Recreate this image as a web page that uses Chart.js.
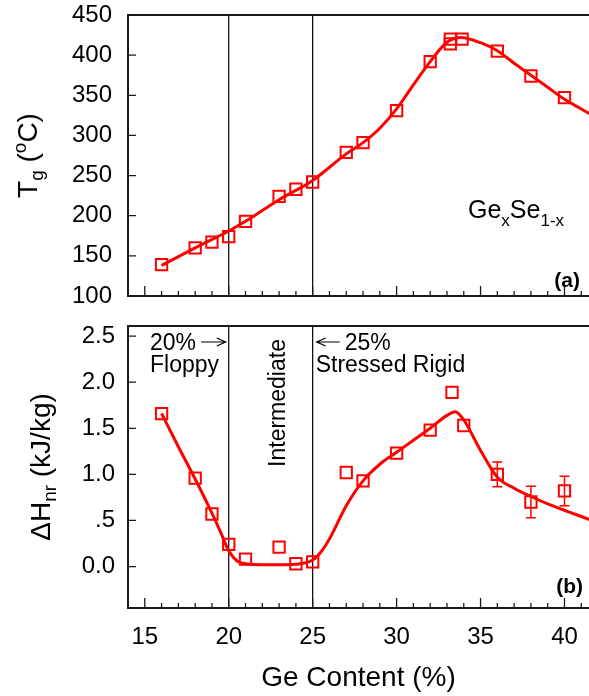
<!DOCTYPE html>
<html>
<head>
<meta charset="utf-8">
<script src="https://cdn.jsdelivr.net/npm/chart.js@4.4.0/dist/chart.umd.min.js"></script>
<style>
  body { margin: 0; background: #fff; overflow: hidden; }
  #wrap { position: relative; width: 589px; height: 696px; }
  #tgChart { position: absolute; left: 0; top: 0; }
  #dhChart { position: absolute; left: 0; top: 310px; }
</style>
</head>
<body>
<div id="wrap">
  <canvas id="tgChart" width="589" height="310"></canvas>
  <canvas id="dhChart" width="589" height="386"></canvas>
</div>
<script>
// Glass transition temperature, Ge_x Se_1-x
const tgGe = [16, 18, 19, 20, 21, 23, 24, 25, 27, 28, 30, 32, 33.2, 33.2, 33.9, 36, 38, 40];
const tgVals = [139, 160, 167, 174, 193, 224, 233, 242, 279, 291, 331, 392, 414, 420, 420, 405, 374, 347];
const tgFitGe = [16, 18, 20, 21, 23, 25, 27, 28, 29, 30, 31, 32, 33, 33.8, 35, 36, 37, 38, 39, 40, 41, 41.5];
const tgFitVals = [138, 160, 181, 193, 220, 244, 277, 291, 309, 333, 363, 392, 416, 422, 415.5, 405.5, 390, 375, 360, 345, 333, 327];
const tgTicks = [100, 150, 200, 250, 300, 350, 400, 450];

// Non-reversing enthalpy
const dhGe = [16, 18, 19, 20, 21, 23, 24, 25, 27, 28, 30, 32, 33.3, 34, 36, 38, 40];
const dhVals = [1.66, 0.96, 0.57, 0.24, 0.08, 0.21, 0.03, 0.05, 1.02, 0.93, 1.23, 1.48, 1.89, 1.53, 1.00, 0.70, 0.82];
const dhErr = [0, 0, 0, 0, 0, 0, 0, 0, 0, 0, 0, 0, 0, 0, 0.135, 0.17, 0.16];
const dhFitGe = [16, 17, 18, 19, 19.5, 20, 20.5, 21, 22, 23, 24, 25, 25.5, 26, 27, 28, 29, 30, 31, 32, 33, 33.5, 34, 35, 36, 37, 38, 39, 40, 41.5];
const dhFitVals = [1.66, 1.30, 0.95, 0.58, 0.38, 0.17, 0.06, 0.03, 0.02, 0.02, 0.025, 0.07, 0.16, 0.30, 0.66, 0.93, 1.11, 1.24, 1.37, 1.50, 1.64, 1.68, 1.59, 1.26, 0.97, 0.85, 0.76, 0.68, 0.61, 0.51];
const dhTicks = [0, 0.5, 1, 1.5, 2, 2.5];
const dhTickLabels = ['0.0', '.5', '1.0', '1.5', '2.0', '2.5'];

const geTicks = [15, 20, 25, 30, 35, 40];
const phaseBounds = [20, 25];

const RED = '#ff0000';
const FONT = "'Liberation Sans', Arial, sans-serif";

const pts = (xs, ys) => xs.map((x, i) => ({ x, y: ys[i] }));

// draws a run of text pieces with sub/superscripts; parts: [text, size, dy, weight]
function richText(ctx, parts, x, y, align) {
  let total = 0;
  parts.forEach(p => {
    ctx.font = (p[3] || 'normal') + ' ' + p[1] + 'px ' + FONT;
    total += ctx.measureText(p[0]).width;
  });
  let cx = align === 'center' ? x - total / 2 : align === 'right' ? x - total : x;
  ctx.textAlign = 'left';
  ctx.textBaseline = 'alphabetic';
  parts.forEach(p => {
    ctx.font = (p[3] || 'normal') + ' ' + p[1] + 'px ' + FONT;
    ctx.fillText(p[0], cx, y + p[2]);
    cx += ctx.measureText(p[0]).width;
  });
  return cx;
}

// thin open arrow, dir = 1 points right, -1 points left
function arrow(ctx, x1, x2, y, dir) {
  const tip = dir > 0 ? x2 : x1;
  ctx.beginPath();
  ctx.moveTo(x1, y);
  ctx.lineTo(x2, y);
  ctx.moveTo(tip - dir * 9, y - 4);
  ctx.lineTo(tip, y);
  ctx.lineTo(tip - dir * 9, y + 4);
  ctx.stroke();
}

// no extra room for the first/last tick labels; the frame is fixed by layout.padding
function noScalePadding(s) {
  s.paddingTop = 0;
  s.paddingBottom = 0;
  s.paddingLeft = 0;
  s.paddingRight = 0;
}

// frame, inward ticks and the 20 % / 25 % boundaries
const framePlugin = {
  id: 'frame',
  beforeDatasetsDraw(chart) {
    const { ctx, chartArea: a, scales: { x, y } } = chart;
    ctx.save();
    ctx.strokeStyle = '#000';
    ctx.lineWidth = 1.2;
    phaseBounds.forEach(v => {
      const px = x.getPixelForValue(v);
      ctx.beginPath();
      ctx.moveTo(px, a.top);
      ctx.lineTo(px, a.bottom);
      ctx.stroke();
    });

    ctx.strokeStyle = '#1a1a1a';
    ctx.lineWidth = 2;
    ctx.beginPath();
    ctx.moveTo(a.right + 2, a.top);
    ctx.lineTo(a.left, a.top);
    ctx.lineTo(a.left, a.bottom);
    ctx.lineTo(a.right + 2, a.bottom);
    ctx.stroke();

    ctx.lineWidth = 1.3;
    ctx.beginPath();
    for (let v = Math.ceil(x.min); v <= x.max; v++) {
      const px = x.getPixelForValue(v);
      const len = v % 5 === 0 ? 10 : 5;
      ctx.moveTo(px, a.bottom);
      ctx.lineTo(px, a.bottom - len);
    }
    y.ticks.forEach(t => {
      const py = y.getPixelForValue(t.value);
      ctx.moveTo(a.left, py);
      ctx.lineTo(a.left + 8, py);
    });
    ctx.stroke();
    ctx.restore();
  }
};

// error bars for the enthalpy points
const errorBars = {
  id: 'errorBars',
  afterDatasetsDraw(chart) {
    const { ctx, scales: { x, y } } = chart;
    ctx.save();
    ctx.strokeStyle = RED;
    ctx.lineWidth = 1.5;
    dhErr.forEach((e, i) => {
      if (!e) return;
      const px = x.getPixelForValue(dhGe[i]);
      const yTop = y.getPixelForValue(dhVals[i] + e);
      const yBot = y.getPixelForValue(dhVals[i] - e);
      ctx.beginPath();
      ctx.moveTo(px, yTop); ctx.lineTo(px, yBot);
      ctx.moveTo(px - 5, yTop); ctx.lineTo(px + 5, yTop);
      ctx.moveTo(px - 5, yBot); ctx.lineTo(px + 5, yBot);
      ctx.stroke();
    });
    ctx.restore();
  }
};

const tgLabels = {
  id: 'tgLabels',
  afterDraw(chart) {
    const { ctx, chartArea: a } = chart;
    ctx.save();
    ctx.fillStyle = '#000';
    ctx.translate(37, (a.top + a.bottom) / 2);
    ctx.rotate(-Math.PI / 2);
    richText(ctx, [['T', 28, 0], ['g', 19, 6], [' (', 28, 0], ['o', 19, -11], ['C)', 28, 0]], 0, 0, 'center');
    ctx.restore();

    ctx.save();
    ctx.fillStyle = '#000';
    richText(ctx, [['Ge', 25, 0], ['x', 17, 8], ['Se', 25, 0], ['1-x', 17, 8]], 468, 218, 'left');
    richText(ctx, [['(a)', 21, 0, 'bold']], a.right - 9, a.bottom - 9, 'right');
    ctx.restore();
  }
};

const dhLabels = {
  id: 'dhLabels',
  afterDraw(chart) {
    const { ctx, chartArea: a, scales: { x } } = chart;
    ctx.save();
    ctx.fillStyle = '#000';
    ctx.translate(50, (a.top + a.bottom) / 2);
    ctx.rotate(-Math.PI / 2);
    richText(ctx, [['\u0394H', 28, 0], ['nr', 19, 6], [' (kJ/kg)', 28, 0]], 0, 0, 'center');
    ctx.restore();

    ctx.save();
    ctx.fillStyle = '#000';
    ctx.strokeStyle = '#000';
    ctx.lineWidth = 1.2;
    const x20 = x.getPixelForValue(20);
    const x25 = x.getPixelForValue(25);
    const row1 = a.top + 24;
    const row2 = a.top + 46;
    const end20 = richText(ctx, [['20%', 23, 0]], a.left + 22, row1, 'left');
    arrow(ctx, end20 + 5, x20 - 3, row1 - 8, 1);
    richText(ctx, [['Floppy', 23, 0]], a.left + 22, row2, 'left');
    arrow(ctx, x25 + 4, x25 + 27, row1 - 8, -1);
    richText(ctx, [['25%', 23, 0]], x25 + 32, row1, 'left');
    richText(ctx, [['Stressed Rigid', 23, 0]], x25 + 3, row2, 'left');
    richText(ctx, [['(b)', 21, 0, 'bold']], a.right - 6, a.bottom - 15, 'right');
    ctx.translate((x20 + x25) / 2 + 14, a.top + 77);
    ctx.rotate(-Math.PI / 2);
    richText(ctx, [['Intermediate', 23, 0]], 0, 0, 'center');
    ctx.restore();
  }
};

const tickFont = { family: FONT, size: 24, lineHeight: 1 };

new Chart(document.getElementById('tgChart'), {
  type: 'scatter',
  data: {
    datasets: [{
      data: pts(tgFitGe, tgFitVals),
      showLine: true,
      borderColor: RED,
      borderWidth: 3,
      pointRadius: 0,
      cubicInterpolationMode: 'monotone'
    }, {
      data: pts(tgGe, tgVals),
      pointStyle: 'rect',
      pointRadius: 8,
      pointBorderWidth: 2,
      pointBorderColor: RED,
      pointBackgroundColor: 'rgba(0,0,0,0)'
    }]
  },
  options: {
    responsive: false,
    animation: false,
    layout: { autoPadding: false, padding: { top: 15, bottom: 14, left: 0, right: 0 } },
    plugins: { legend: { display: false }, tooltip: { enabled: false } },
    scales: {
      x: { display: false, min: 14, max: 41.46, afterFit: noScalePadding },
      y: {
        min: 100, max: 450,
        afterBuildTicks: s => { s.ticks = tgTicks.map(v => ({ value: v })); },
        afterFit: s => { s.width = 128; noScalePadding(s); },
        grid: { display: false, drawTicks: false },
        border: { display: false },
        ticks: { font: tickFont, color: '#000', padding: 16 }
      }
    }
  },
  plugins: [framePlugin, tgLabels]
});

new Chart(document.getElementById('dhChart'), {
  type: 'scatter',
  data: {
    datasets: [{
      data: pts(dhFitGe, dhFitVals),
      showLine: true,
      borderColor: RED,
      borderWidth: 3,
      pointRadius: 0,
      cubicInterpolationMode: 'monotone'
    }, {
      data: pts(dhGe, dhVals),
      pointStyle: 'rect',
      pointRadius: 8,
      pointBorderWidth: 2,
      pointBorderColor: RED,
      pointBackgroundColor: 'rgba(0,0,0,0)'
    }]
  },
  options: {
    responsive: false,
    animation: false,
    layout: { autoPadding: false, padding: { top: 16, bottom: 0, left: 0, right: 0 } },
    plugins: { legend: { display: false }, tooltip: { enabled: false } },
    scales: {
      x: {
        min: 14, max: 41.46,
        afterBuildTicks: s => { s.ticks = geTicks.map(v => ({ value: v })); },
        afterFit: s => { s.height = 88; noScalePadding(s); },
        grid: { display: false, drawTicks: false },
        border: { display: false },
        ticks: { font: tickFont, color: '#000', padding: 17, maxRotation: 0, autoSkip: false },
        title: {
          display: true,
          text: 'Ge Content (%)',
          color: '#000',
          font: { family: FONT, size: 28 },
          padding: { top: 0, bottom: 1 }
        }
      },
      y: {
        min: -0.45, max: 2.61,
        afterBuildTicks: s => { s.ticks = dhTicks.map(v => ({ value: v })); },
        afterFit: s => { s.width = 128; noScalePadding(s); },
        grid: { display: false, drawTicks: false },
        border: { display: false },
        ticks: {
          font: tickFont, color: '#000', padding: 13,
          callback: (v) => dhTickLabels[dhTicks.indexOf(v)]
        }
      }
    }
  },
  plugins: [framePlugin, errorBars, dhLabels]
});
</script>
</body>
</html>
